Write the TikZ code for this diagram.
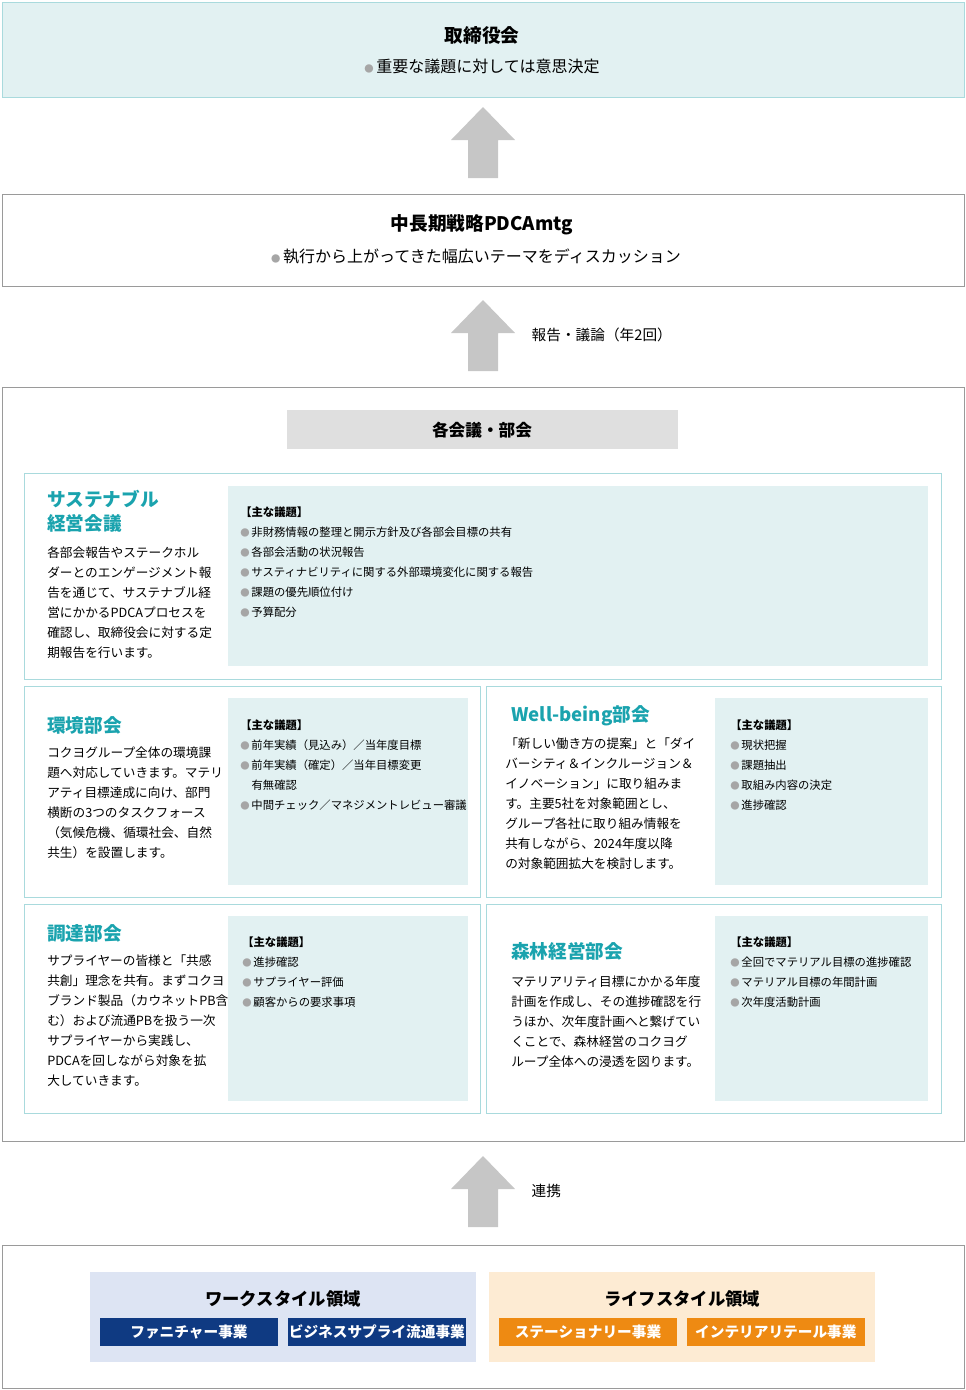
\documentclass[tikz,border=0pt]{standalone}
\usepackage{fontspec}
\setmainfont{Noto Sans CJK JP}
\usetikzlibrary{positioning}
\definecolor{teal1}{HTML}{1AA3AE}
\definecolor{tealbg}{HTML}{E2F1F2}
\definecolor{tealln}{HTML}{A9DADD}
\definecolor{grayln}{HTML}{9A9A9A}
\definecolor{navy}{HTML}{0F3A82}
\definecolor{workbg}{HTML}{DDE4F3}
\definecolor{lifebg}{HTML}{FDEBD3}
\definecolor{orng}{HTML}{EE8A12}
\newcommand{\bl}{{\color{gray!70}\scriptsize●}\,}
\tikzset{
    x=0.75pt, y=-0.75pt,
    frame/.style={draw=grayln, line width=0.6pt}, % outer boxes
    panel/.style={draw=tealln, line width=0.6pt}, % committee panels
    shade/.style={fill=tealbg}, % item area
    ttl/.style={anchor=north west, inner sep=0pt, text=teal1, font=\fontsize{14}{18}\selectfont\bfseries, align=left},
    body/.style={anchor=north west, inner sep=0pt, font=\fontsize{9.5}{15}\selectfont, align=left},
    items/.style={anchor=north west, inner sep=0pt, font=\fontsize{8.5}{15}\selectfont, align=left},
    uparrow/.style={fill=gray!45, draw=none},
    tag/.style={font=\fontsize{11}{13}\selectfont\bfseries, text=white, minimum width=133pt, minimum height=21pt, inner sep=0pt},
}
\newcommand{\uparr}[2]{\fill[uparrow] (483,#1) -- (515,#1+33) -- (498,#1+33) -- (498,#2) -- (468,#2) -- (468,#1+33) -- (451,#1+33) -- cycle;}
\begin{document}
\begin{tikzpicture}
\useasboundingbox (0,0) rectangle (965,1390);
% top
\draw[draw=tealln, fill=tealbg, line width=0.6pt] (2,2) rectangle (964,97);
\node[font=\fontsize{14}{16}\selectfont\bfseries] (board) at (482,35) {取締役会};
\node[font=\fontsize{12}{14}\selectfont] (boardtx) at (482,66) {\bl 重要な議題に対しては意思決定};
\uparr{107}{178}
\draw[frame] (2,194) rectangle (964,286);
\node[font=\fontsize{14}{16}\selectfont\bfseries] (pdca) at (482,225) {中長期戦略PDCAmtg};
\node[font=\fontsize{12}{14}\selectfont] (pdcatx) at (476,256) {\bl 執行から上がってきた幅広いテーマをディスカッション};
\uparr{300}{371}
\node[anchor=west, font=\fontsize{11}{13}\selectfont] (rep) at (527,335) {報告・議論（年2回）};
% committees
\draw[frame] (2,387) rectangle (964,1141);
\fill[gray!25] (287,410) rectangle (678,449);
\node[font=\fontsize{12.5}{14}\selectfont\bfseries] (kaku) at (482,430) {各会議・部会};
% sustainable
\draw[panel] (24,473) rectangle (941,679);
\fill[shade] (228,486) rectangle (928,666);
\node[ttl] (sus) at (47,490) {サステナブル\\経営会議};
\node[body] (sustx) at (47,546) {各部会報告やステークホル\\ダーとのエンゲージメント報\\告を通じて、サステナブル経\\営にかかるPDCAプロセスを\\確認し、取締役会に対する定\\期報告を行います。};
\node[items] (susit) at (240,506) {\textbf{【主な議題】}\\\bl 非財務情報の整理と開示方針及び各部会目標の共有\\\bl 各部会活動の状況報告\\\bl サスティナビリティに関する外部環境変化に関する報告\\\bl 課題の優先順位付け\\\bl 予算配分};
% environment
\draw[panel] (24,686) rectangle (480,897);
\fill[shade] (228,698) rectangle (468,885);
\node[ttl] (env) at (47,716) {環境部会};
\node[body] (envtx) at (47,747) {コクヨグループ全体の環境課\\題へ対応していきます。マテリ\\アティ目標達成に向け、部門\\横断の3つのタスクフォース\\（気候危機、循環社会、自然\\共生）を設置します。};
\node[items] (envit) at (240,719) {\textbf{【主な議題】}\\\bl 前年実績（見込み）／当年度目標\\\bl 前年実績（確定）／当年目標変更\\\quad 有無確認\\\bl 中間チェック／マネジメントレビュー審議};
% well-being
\draw[panel] (486,686) rectangle (941,897);
\fill[shade] (715,698) rectangle (928,885);
\node[ttl] (wb) at (511,705) {Well-being部会};
\node[body] (wbtx) at (505,738) {「新しい働き方の提案」と「ダイ\\バーシティ＆インクルージョン＆\\イノベーション」に取り組みま\\す。主要5社を対象範囲とし、\\グループ各社に取り組み情報を\\共有しながら、2024年度以降\\の対象範囲拡大を検討します。};
\node[items] (wbit) at (730,719) {\textbf{【主な議題】}\\\bl 現状把握\\\bl 課題抽出\\\bl 取組み内容の決定\\\bl 進捗確認};
% procurement
\draw[panel] (24,904) rectangle (480,1113);
\fill[shade] (228,916) rectangle (468,1101);
\node[ttl] (proc) at (47,924) {調達部会};
\node[body] (proctx) at (47,955) {サプライヤーの皆様と「共感\\共創」理念を共有。まずコクヨ\\ブランド製品（カウネットPB含\\む）および流通PBを扱う一次\\サプライヤーから実践し、\\PDCAを回しながら対象を拡\\大していきます。};
\node[items] (procit) at (242,936) {\textbf{【主な議題】}\\\bl 進捗確認\\\bl サプライヤー評価\\\bl 顧客からの要求事項};
% forest
\draw[panel] (486,904) rectangle (941,1113);
\fill[shade] (715,916) rectangle (928,1101);
\node[ttl] (for) at (511,942) {森林経営部会};
\node[body] (fortx) at (511,976) {マテリアリティ目標にかかる年度\\計画を作成し、その進捗確認を行\\うほか、次年度計画へと繋げてい\\くことで、森林経営のコクヨグ\\ループ全体への浸透を図ります。};
\node[items] (forit) at (730,936) {\textbf{【主な議題】}\\\bl 全回でマテリアル目標の進捗確認\\\bl マテリアル目標の年間計画\\\bl 次年度活動計画};
\uparr{1156}{1227}
\node[anchor=west, font=\fontsize{11}{13}\selectfont] (coop) at (527,1191) {連携};
% domains
\draw[frame] (2,1245) rectangle (964,1388);
\fill[workbg] (90,1272) rectangle (476,1362);
\node[font=\fontsize{13}{15}\selectfont\bfseries] (work) at (283,1299) {ワークスタイル領域};
\node[tag, fill=navy] (furn) at (189,1332) {ファニチャー事業};
\node[tag, fill=navy, right=7.5pt of furn] (biz) {ビジネスサプライ流通事業};
\fill[lifebg] (489,1272) rectangle (875,1362);
\node[font=\fontsize{13}{15}\selectfont\bfseries] (life) at (682,1299) {ライフスタイル領域};
\node[tag, fill=orng] (stat) at (588,1332) {ステーショナリー事業};
\node[tag, fill=orng, right=7.5pt of stat] (intr) {インテリアリテール事業};
\end{tikzpicture}
\end{document}
